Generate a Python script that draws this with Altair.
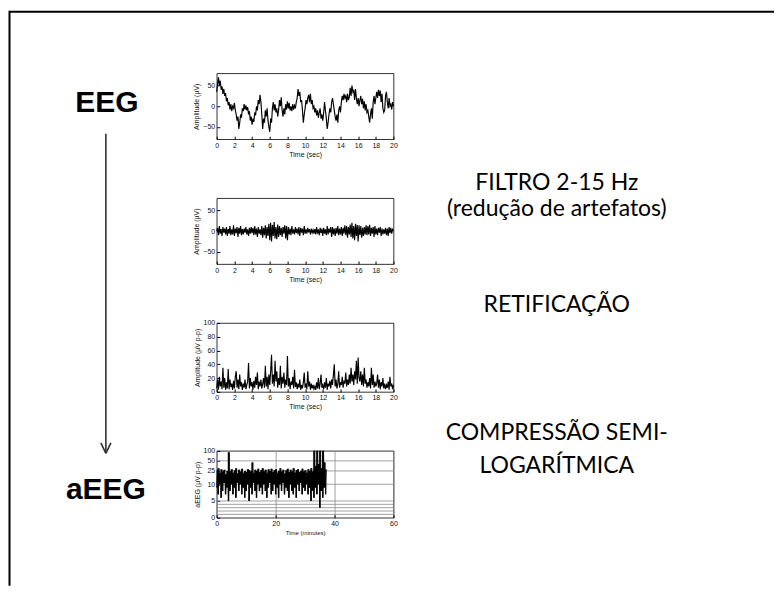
import math
import altair as alt
import pandas as pd

# ---------------- data ----------------
# raw EEG, 0..20 s, one value every 0.1 s (µV)
eeg_raw = [
    35, 55, 70, 50, 62, 40, 48, 30, 42, 25, 32,
    12, 20, 2, 10, -8, 5, -12, 0, -5, 8,
    -10, -20, -35, -25, -55, -40, -20, -28, -5, -12,
    5, -8, 2, -10, -2, -20, -12, -35, -25, -45,
    -30, -38, -15, -22, 0, -10, 15, 5, 28, 10,
    -20, -55, -30, -40, -10, -25, -5, -35, -50, -62,
    -30, -40, -5, 10, -10, 5, -15, -5, -25, -10,
    15, 0, 22, -10, -25, -5, -20, 5, -8, 12,
    -5, 8, -10, 0, -12, 5, -8, 2, -5, 10,
    20, 42, 25, 35, 10, 15, -10, -40, -20, -5,
    15, 5, 20, 28, 10, 30, 5, 15, -5, 0,
    -15, -5, -22, -10, -28, -15, -5, -30, -20, -35,
    -15, 10, -10, -30, -55, -40, -20, -5, -15, 10,
    20, 5, -10, -25, -35, -20, -40, -10, 0, -15,
    10, 25, 15, 30, 20, 25, 10, 30, 15, 22,
    45, 25, 50, 35, 40, 15, 42, 20, 5, 20,
    0, 15, 25, 5, 18, -5, 12, -10, 5, -15,
    -10, -25, -40, -20, -5, -30, 10, 25, 5, 20,
    35, 20, 40, 25, 38, 10, 30, -5, -15, -10,
    25, 35, 10, -5, 20, 0, 5, -8, 10, 0,
]

# filtered EEG 2-15 Hz, 0..20 s every 0.1 s (µV)
eeg_filt = [
    0, 8, -10, 12, -6, 5, -12, 10, -4, 6, -8,
    10, -12, 5, -6, 12, -10, 4, -8, 14, -12,
    6, -5, 10, -14, 8, -6, 12, -10, 5, -8,
    6, -4, 10, -8, 4, -12, 8, -6, 10, -5,
    8, -10, 12, -8, 6, -14, 10, -6, 4, -10,
    12, -16, 8, -10, 14, -18, 10, -12, 18, -22,
    20, -25, 15, -12, 22, -18, 10, -20, 16, -14,
    12, -10, 8, -14, 10, -6, 14, -18, 12, -22,
    10, -8, 6, -10, 12, -6, 4, -8, 10, -5,
    6, -8, 10, -12, 8, -4, 6, -10, 12, -6,
    4, -6, 8, -3, 5, -8, 6, -4, 3, -6,
    5, -8, 10, -6, 4, -10, 8, -5, 6, -12,
    8, -6, 4, -10, 12, -8, 6, -4, 10, -14,
    10, -8, 6, -12, 8, -6, 12, -10, 6, -8,
    10, -12, 8, -6, 14, -10, 12, -16, 10, -8,
    16, -14, 20, -18, 12, -22, 18, -12, 15, -25,
    14, -10, 12, -16, 8, -12, 10, -8, 14, -10,
    12, -8, 15, -12, 8, -6, 10, -14, 12, -8,
    6, -10, 8, -4, 10, -12, 6, -8, 4, -6,
    8, -10, 6, -12, 10, -5, 8, -6, 4, 0,
]

# rectified signal, 0..20 s every 0.1 s (µV p-p)
eeg_rect = [
    5, 18, 3, 22, 8, 15, 4, 35, 6, 20, 3,
    14, 5, 33, 4, 18, 7, 12, 3, 16, 5,
    22, 30, 6, 18, 4, 25, 8, 14, 3, 12,
    6, 18, 4, 10, 15, 42, 5, 20, 8, 14,
    3, 16, 6, 22, 10, 28, 4, 15, 8, 18,
    5, 12, 20, 6, 38, 8, 22, 4, 25, 10,
    30, 54, 12, 25, 8, 45, 15, 30, 6, 20,
    10, 38, 5, 22, 12, 28, 6, 18, 10, 52,
    8, 20, 4, 15, 10, 22, 5, 32, 7, 14,
    4, 12, 6, 18, 3, 10, 5, 14, 28, 6,
    12, 4, 30, 8, 15, 3, 12, 5, 10, 4,
    8, 3, 14, 5, 20, 4, 12, 25, 6, 10,
    4, 14, 6, 20, 3, 12, 8, 16, 5, 18,
    10, 25, 40, 8, 18, 5, 12, 30, 6, 14,
    10, 22, 6, 15, 12, 28, 8, 18, 10, 25,
    12, 35, 15, 25, 10, 30, 18, 45, 12, 50,
    20, 15, 30, 10, 25, 8, 35, 12, 18, 6,
    14, 8, 20, 5, 35, 10, 25, 6, 15, 8,
    12, 25, 6, 18, 4, 14, 8, 20, 5, 12,
    4, 10, 6, 15, 3, 22, 8, 12, 4, 10,
]

# aEEG envelope, 0..37 min every 0.5 min (µV p-p)
aeeg_upper = [
    26, 30, 22, 28, 24, 27, 20, 25, 90, 24,
    28, 22, 26, 30, 21, 27, 24, 29, 22, 25,
    23, 28, 26, 24, 45, 22, 27, 25, 29, 23,
    26, 30, 24, 27, 22, 28, 25, 29, 23, 26,
    28, 22, 25, 30, 24, 27, 21, 26, 29, 23,
    27, 24, 30, 22, 26, 28, 23, 25, 29, 24,
    26, 22, 28, 25, 30, 24, 100, 35, 100, 40,
    100, 30, 100, 45, 28,
]
aeeg_lower = [
    9, 7, 10, 6, 8, 11, 7, 9, 5, 8,
    10, 7, 9, 6, 11, 8, 10, 7, 9, 6,
    8, 10, 5, 9, 7, 11, 8, 6, 10, 8,
    9, 7, 10, 8, 6, 9, 11, 7, 8, 10,
    7, 9, 6, 10, 8, 11, 7, 9, 8, 6,
    10, 8, 7, 9, 6, 10, 8, 11, 7, 9,
    8, 10, 7, 9, 5, 8, 6, 9, 7, 10,
    3, 8, 6, 9, 7,
]

sec_ticks = [0, 2, 4, 6, 8, 10, 12, 14, 16, 18, 20]
amp_ticks = [-50, 0, 50]
rect_ticks = [0, 20, 40, 60, 80, 100]
min_ticks = [0, 20, 40, 60]
aeeg_ticks = [0, 5, 10, 25, 50, 100]
aeeg_grid = [1, 2, 3, 4, 5, 10, 25, 50]

left_labels = ["EEG", "aEEG"]
right_labels = ["FILTRO 2-15 Hz", "(redução de artefatos)", "RETIFICAÇÃO",
                "COMPRESSÃO SEMI-", "LOGARÍTMICA"]

assert len(eeg_raw) == 201 and len(eeg_filt) == 201 and len(eeg_rect) == 201
assert len(aeeg_upper) == 75 and len(aeeg_lower) == 75

# ---------------- helpers ----------------
FONT = "Liberation Sans"
TXT = "#111111"
W = 177
SEMILOG = "datum.v <= 10 ? datum.v / 10 : 1 + log(datum.v / 10) / LN10"


def semilog(v):
    return v / 10 if v <= 10 else 1 + math.log10(v / 10)


def xaxis(values, title, size=7):
    return alt.Axis(values=values, title=title, labelFontSize=7, titleFontSize=size,
                    labelFont=FONT, titleFont=FONT, labelColor=TXT, titleColor=TXT,
                    titleFontWeight="normal", tickSize=3, offset=-3, labelPadding=2,
                    titlePadding=2, domain=False, grid=False, tickColor="black",
                    labelFlush=False, labelOverlap=False)


def yaxis(values, title, **kw):
    return alt.Axis(values=values, title=title, labelFontSize=7, titleFontSize=7,
                    labelFont=FONT, titleFont=FONT, labelColor=TXT, titleColor=TXT,
                    titleFontWeight="normal", tickSize=3, offset=-3, labelPadding=2,
                    titlePadding=3, domain=False, grid=False, tickColor="black",
                    labelFlush=False, labelOverlap=False, **kw)


def trace(values, ydom, yticks, ytitle, height):
    df = pd.DataFrame({"t": [i * 0.1 for i in range(len(values))], "v": values})
    return alt.Chart(df).mark_line(color="black", strokeWidth=1.15).encode(
        x=alt.X("t:Q", scale=alt.Scale(domain=[0, 20], nice=False),
                axis=xaxis(sec_ticks, "Time (sec)")),
        y=alt.Y("v:Q", scale=alt.Scale(domain=ydom, nice=False),
                axis=yaxis(yticks, ytitle)),
    ).properties(width=W, height=height)


def note(text, x, y, size, weight="normal", font=FONT):
    return alt.Chart(alt.Data(values=[{"label": text}])).mark_text(
        font=font, fontSize=size, fontWeight=weight, color="black",
        align="center", baseline="alphabetic",
    ).encode(x=alt.value(x), y=alt.value(y), text="label:N")


def seg(x1, y1, x2, y2, color="black", width=1.0):
    return alt.Chart(alt.Data(values=[{}])).mark_rule(
        color=color, strokeWidth=width).encode(
        x=alt.value(x1), y=alt.value(y1), x2=alt.value(x2), y2=alt.value(y2))


# ---------------- panels ----------------
p1 = trace(eeg_raw, [-80, 80], amp_ticks, "Amplitude (µV)", 66)
p2 = trace(eeg_filt, [-80, 80], amp_ticks, "Amplitude (µV)", 66)
p3 = trace(eeg_rect, [0, 100], rect_ticks, "Amplitude (µV p-p)", 69)

rows = []
for i, (lo, hi) in enumerate(zip(aeeg_lower, aeeg_upper)):
    rows.append({"t": i * 0.5, "v": lo, "o": 2 * i})
    rows.append({"t": i * 0.5 + 0.25, "v": hi, "o": 2 * i + 1})
df4 = pd.DataFrame(rows)
df4b = pd.DataFrame({"t": [i * 0.5 for i in range(len(aeeg_lower))],
                     "lo": aeeg_lower, "hi": aeeg_upper})

ylab = ("datum.value < 0.25 ? '0' : datum.value < 0.75 ? '5' : datum.value < 1.2 ? '10'"
        " : datum.value < 1.55 ? '25' : datum.value < 1.85 ? '50' : '100'")
y4_axis = yaxis([semilog(v) for v in aeeg_ticks], "aEEG (µV p-p)", labelExpr=ylab)
y4_scale = alt.Scale(domain=[0, 2], nice=False)
x4 = alt.X("t:Q", scale=alt.Scale(domain=[0, 60], nice=False),
           axis=alt.Axis(values=min_ticks, title="Time (minutes)", labelFontSize=7,
                         titleFontSize=6, labelFont=FONT, titleFont=FONT,
                         labelColor=TXT, titleColor=TXT, titleFontWeight="normal",
                         tickSize=3, offset=-3, labelPadding=2, titlePadding=3,
                         domain=False, grid=True, gridColor="#8a8a8a",
                         gridWidth=0.8, tickColor="black", labelFlush=False))

grid4 = alt.Chart(pd.DataFrame({"v": aeeg_grid})).transform_calculate(
    y=SEMILOG).mark_rule(color="#8a8a8a", strokeWidth=0.8).encode(
    y=alt.Y("y:Q", scale=y4_scale, axis=y4_axis))
band4 = alt.Chart(df4b).transform_calculate(
    ylo="datum.lo <= 10 ? datum.lo / 10 : 1 + log(datum.lo / 10) / LN10",
    yhi="datum.hi <= 10 ? datum.hi / 10 : 1 + log(datum.hi / 10) / LN10",
).mark_area(color="black", opacity=1, interpolate="step").encode(
    x=x4, y=alt.Y("ylo:Q", scale=y4_scale, axis=y4_axis), y2="yhi:Q")
line4 = alt.Chart(df4).transform_calculate(y=SEMILOG).mark_line(
    color="black", strokeWidth=0.8).encode(
    x=x4, y=alt.Y("y:Q", scale=y4_scale, axis=y4_axis), order="o:Q")
p4 = alt.layer(grid4, band4, line4).properties(width=W, height=67)

# ---------------- annotations (pixel offsets from panel 1 plot origin) ----------------
ax = -111
annot = [
    seg(-207.5, -61.5, 558, -61.5, width=2),      # frame top
    seg(-207.5, -62.5, -207.5, 513, width=2),     # frame left
    note(left_labels[0], -110, 38.5, 30, "bold"),
    note(left_labels[1], -111, 426.5, 30, "bold"),
    seg(ax, 60.5, ax, 380, color="#333333", width=1.6),
    seg(ax - 5, 370, ax, 380.5, color="#333333", width=1.6),
    seg(ax + 5, 370, ax, 380.5, color="#333333", width=1.6),
    note(right_labels[0], 340.5, 117, 23, font="Lato"),
    note(right_labels[1], 340.5, 143, 23, font="Lato"),
    note(right_labels[2], 340.5, 239.5, 23, font="Lato"),
    note(right_labels[3], 340.5, 367.5, 23, font="Lato"),
    note(right_labels[4], 340.5, 400.5, 23, font="Lato"),
]
p1 = alt.layer(p1, *annot)

chart = alt.vconcat(p1, p2, p3, p4, spacing=59, bounds="flush").properties(
    padding={"left": 0, "top": 1, "right": 0, "bottom": 0},
    background="white",
).configure_view(stroke="black", strokeWidth=0.8)

chart.save("out.html", embed_options={"renderer": "svg", "actions": False})
